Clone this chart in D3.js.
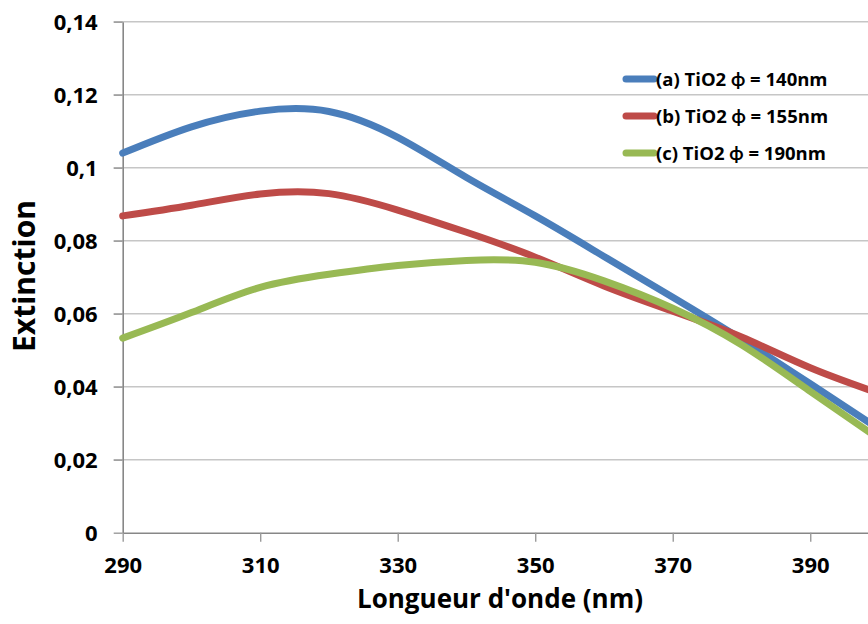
<!DOCTYPE html>
<html>
<head>
<meta charset="utf-8">
<script src="https://cdn.jsdelivr.net/npm/d3@7"></script>
<style>
  html, body { margin: 0; padding: 0; background: #fff; }
  svg text { font-family: "Open Sans", Lato, sans-serif; font-weight: bold; fill: #000; }
</style>
</head>
<body>
<div id="chart"></div>
<script>
// wavelength samples (nm)
const wavelengths = [290, 300, 310, 320, 330, 340, 350, 360, 370, 380, 390, 400];

// extinction
const seriesA = [0.1040, 0.1112, 0.1155, 0.1154, 0.1083, 0.0973, 0.0868, 0.0757, 0.0645, 0.0530, 0.0408, 0.0284];
const seriesB = [0.0868, 0.0897, 0.0928, 0.0929, 0.0884, 0.0823, 0.0755, 0.0676, 0.0607, 0.0536, 0.0452, 0.0382];
const seriesC = [0.0533, 0.0603, 0.0672, 0.0708, 0.0732, 0.0746, 0.0741, 0.0690, 0.0615, 0.0515, 0.0387, 0.0257];

const seriesNames = ["(a) TiO2 \u03D5 = 140nm", "(b) TiO2 \u03D5 = 155nm", "(c) TiO2 \u03D5 = 190nm"];
const seriesColours = ["#4a7ebb", "#be4b48", "#98b954"];

const xTicks = [290, 310, 330, 350, 370, 390];
const yTicks = [0, 0.02, 0.04, 0.06, 0.08, 0.1, 0.12, 0.14];

const xLabel = "Longueur d'onde (nm)";
const yLabel = "Extinction";

const width = 868,
    height = 624;

const svg = d3.select("#chart").append("svg")
    .attr("width", width)
    .attr("height", height);

const x = d3.scaleLinear()
    .domain([290, 400])
    .range([122.7, 879]);
const y = d3.scaleLinear()
    .domain([0, 0.14])
    .range([532.7, 21.7]);

const fmt = d => d === 0 ? "0" : String(+d.toFixed(2)).replace(".", ",");

// horizontal grid
svg.append("g")
    .selectAll("line")
    .data(yTicks.slice(1))
    .enter()
    .append("line")
    .attr("x1", x(290) - 9)
    .attr("x2", width)
    .attr("y1", d => y(d))
    .attr("y2", d => y(d))
    .attr("stroke", "#c6c6c6")
    .attr("stroke-width", 1.4);

// y axis
const yAxis = svg.append("g")
    .attr("transform", "translate(" + x(290) + ",0)")
    .call(d3.axisLeft(y).tickValues(yTicks).tickFormat(fmt).tickSize(9).tickSizeOuter(0).tickPadding(16));
yAxis.select(".domain").attr("stroke", "#878787").attr("stroke-width", 1.6);
yAxis.selectAll(".tick line").attr("stroke", "#9a9a9a").attr("stroke-width", 1.4);
yAxis.selectAll("text").attr("font-size", 22).attr("font-family", null).attr("dy", "0.36em");

// x axis
const xAxis = svg.append("g")
    .attr("transform", "translate(0," + y(0) + ")")
    .call(d3.axisBottom(x).tickValues(xTicks).tickSize(9).tickSizeOuter(0).tickPadding(16));
xAxis.select(".domain").attr("stroke", "#878787").attr("stroke-width", 1.6);
xAxis.selectAll(".tick line").attr("stroke", "#9a9a9a").attr("stroke-width", 1.4);
xAxis.selectAll("text").attr("font-size", 22).attr("font-family", null).attr("dy", "0.71em");

// curves
const line = d3.line()
    .x(d => x(d[0]))
    .y(d => y(d[1]))
    .curve(d3.curveNatural);

[seriesA, seriesB, seriesC].forEach((s, i) => {
    svg.append("path")
        .datum(wavelengths.map((w, j) => [w, s[j]]))
        .attr("fill", "none")
        .attr("stroke", seriesColours[i])
        .attr("stroke-width", 7)
        .attr("stroke-linecap", "round")
        .attr("d", line);
});

// legend
const legend = svg.append("g")
    .attr("transform", "translate(623,79)");
const rows = legend.selectAll("g")
    .data(seriesNames)
    .enter()
    .append("g")
    .attr("transform", (d, i) => "translate(0," + (i * 37) + ")");
rows.append("line")
    .attr("x1", 3).attr("x2", 31)
    .attr("stroke", (d, i) => seriesColours[i])
    .attr("stroke-width", 7)
    .attr("stroke-linecap", "round");
rows.append("text")
    .attr("x", 33)
    .attr("dy", "0.36em")
    .attr("font-size", 18.5)
    .text(d => d);

// axis titles
svg.append("text")
    .attr("x", 500)
    .attr("y", 608)
    .attr("text-anchor", "middle")
    .attr("font-size", 26)
    .text(xLabel);

svg.append("text")
    .attr("transform", "translate(35,276) rotate(-90)")
    .attr("text-anchor", "middle")
    .attr("font-size", 30)
    .text(yLabel);
</script>
</body>
</html>
